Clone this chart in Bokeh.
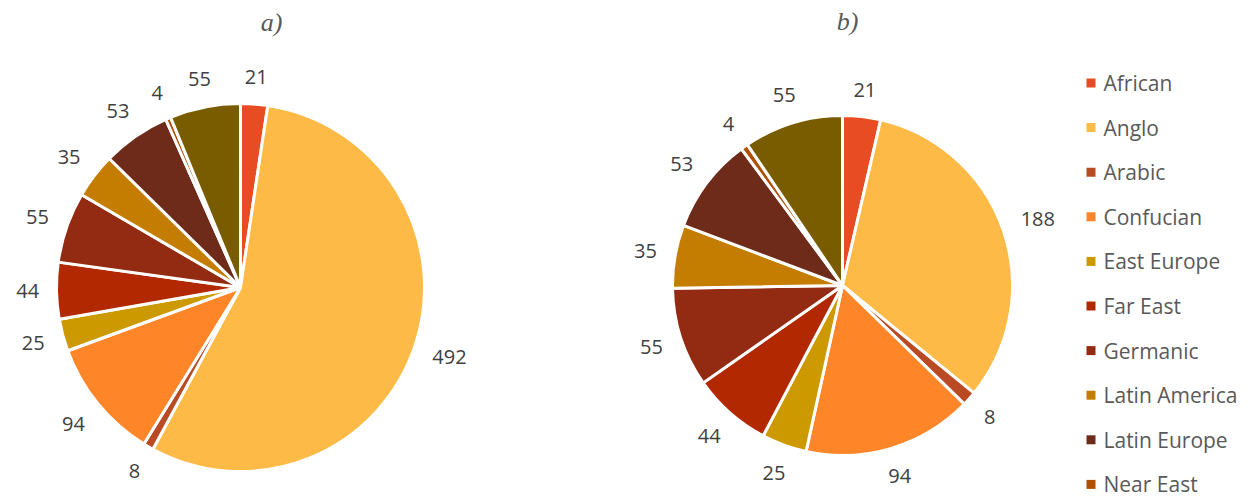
import numpy as np
from bokeh.plotting import figure
from bokeh.models import Range1d, ColumnDataSource
from bokeh.core.properties import value
from bokeh.embed import file_html
from bokeh.resources import INLINE

categories = ["African", "Anglo", "Arabic", "Confucian", "East Europe", "Far East",
              "Germanic", "Latin America", "Latin Europe", "Near East", "Nordic"]
values_a = [21, 492, 8, 94, 25, 44, 55, 35, 53, 4, 55]
values_b = [21, 188, 8, 94, 25, 44, 55, 35, 53, 4, 55]
colors = ["#E84C22", "#FEBA47", "#BA4A23", "#FE8629", "#CC9900", "#B22800",
          "#932A12", "#C47D00", "#6E2B19", "#B14F00", "#7A5C00"]
titles = ["a)", "b)"]

W, H = 1251, 499
p = figure(width=W, height=H, output_backend="svg", toolbar_location=None,
           x_range=Range1d(0, W), y_range=Range1d(0, H), min_border=0)
p.axis.visible = False
p.grid.visible = False
p.outline_line_color = None
p.background_fill_color = "white"

FONT = "Open Sans"
LABEL_PX = 20

def pie(vals, cx, cy_px, r, title, tx, ty_px):
    vals = np.array(vals, dtype=float)
    total = vals.sum()
    cum = np.concatenate([[0], np.cumsum(vals)])
    start = np.pi / 2 - cum[:-1] / total * 2 * np.pi
    end = np.pi / 2 - cum[1:] / total * 2 * np.pi
    cy = H - cy_px
    src = ColumnDataSource(dict(start=start, end=end, color=colors, cat=categories))
    p.wedge(x=cx, y=cy, radius=r, start_angle="start", end_angle="end",
            direction="clock", fill_color="color", line_color="white",
            line_width=3, source=src)
    mid = (cum[:-1] + cum[1:]) / 2 / total * 2 * np.pi
    s, c = np.sin(mid), np.cos(mid)
    labels = [str(int(v)) for v in vals]
    hw = np.array([len(t) * 5.8 for t in labels])
    hh = 9.0
    d = r + 17 + hw * np.abs(s) + hh * np.abs(c)
    lx = cx + d * s
    ly = cy + d * c
    p.text(x=lx, y=ly, text=labels, text_align="center", text_baseline="middle",
           text_font=value(FONT), text_font_size=f"{LABEL_PX}px", text_color="#404040")
    p.text(x=[tx], y=[H - ty_px], text=[title], text_align="center", text_baseline="middle",
           text_font=value("Liberation Serif"), text_font_style="italic",
           text_font_size="26px", text_color="#595959")

pie(values_a, 240, 287, 184, titles[0], 271, 22)
pie(values_b, 842, 285, 170, titles[1], 847, 21)

# legend (rows beyond the window are not visible in the reference)
n_vis = 10
rows = np.arange(n_vis)
ly_px = 82.5 + 44.6 * rows
p.scatter(x=[1090.5] * n_vis, y=list(H - ly_px), marker="square", size=9,
          fill_color=colors[:n_vis], line_color=None)
p.text(x=[1103] * n_vis, y=list(H - ly_px), text=categories[:n_vis],
       text_align="left", text_baseline="middle", text_font=value(FONT),
       text_font_size="21px", text_color="#595959")

open("out.html", "w").write(file_html(p, INLINE))
